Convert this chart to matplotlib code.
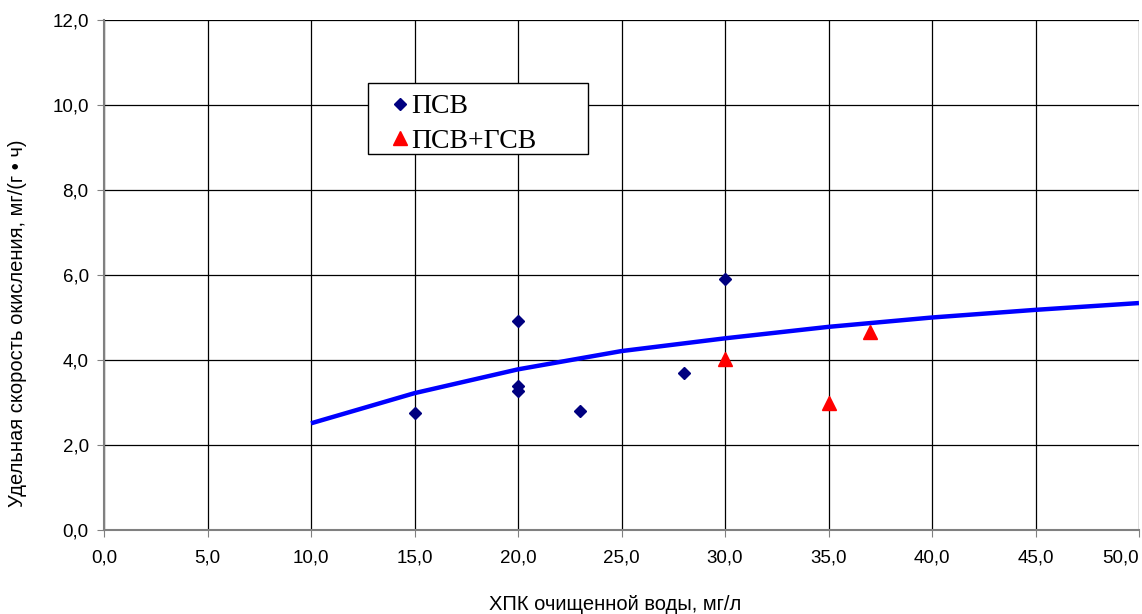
import matplotlib
matplotlib.use("Agg")
import matplotlib.pyplot as plt
from matplotlib.patches import Rectangle

# ПСВ
psv_x = [15, 20, 20, 20, 23, 28, 30]
psv_y = [2.75, 4.92, 3.40, 3.28, 2.80, 3.69, 5.90]

# ПСВ+ГСВ
gsv_x = [30, 35, 37]
gsv_y = [4.02, 3.00, 4.67]

# trend line
fit_x = [10, 15, 20, 25, 30, 35, 40, 45, 50]
fit_y = [2.51, 3.22, 3.78, 4.21, 4.51, 4.78, 5.00, 5.18, 5.34]

xticks = [0, 5, 10, 15, 20, 25, 30, 35, 40, 45, 50]
yticks = [0, 2, 4, 6, 8, 10, 12]

def comma(v):
    return f"{v:.1f}".replace(".", ",")

W, H = 1142, 614
fig = plt.figure(figsize=(W / 100, H / 100), dpi=100)
ax = fig.add_axes([104 / W, 1 - 530 / H, 1035 / W, 510 / H])

ax.plot(fit_x, fit_y, color="#0000ff", lw=3.2, zorder=3, solid_capstyle="butt")
ax.plot(psv_x, psv_y, "D", color="#000080", ms=6.2, ls="none", zorder=4, label="ПСВ")
ax.plot(gsv_x, gsv_y, "^", color="#ff0000", ms=10, ls="none", zorder=4, label="ПСВ+ГСВ")

ax.set_xlim(0, 50)
ax.set_ylim(0, 12)
ax.set_xticks(xticks, [comma(v) for v in xticks])
ax.set_yticks(yticks, [comma(v) for v in yticks])

ax.grid(True, color="black", lw=0.9)
ax.set_axisbelow(True)
for s in ["top", "right"]:
    ax.spines[s].set_visible(False)
for s in ["left", "bottom"]:
    ax.spines[s].set_color("#808080")
    ax.spines[s].set_linewidth(1.5)
ax.tick_params(direction="out", length=5, color="#808080", labelsize=13.5,
               labelcolor="black")
ax.tick_params(axis="x", pad=9)
ax.tick_params(axis="y", pad=6)
for t in ax.get_xticklabels() + ax.get_yticklabels():
    t.set_family("Liberation Sans")
ax.get_xticklabels()[-1].set_ha("right")

fig.text(18 / W, 1 - 323 / H, "Удельная скорость окисления, мг/(г • ч)", rotation=90,
         ha="center", va="center", fontsize=14.5, family="Liberation Sans")
fig.text(615 / W, 1 - 604 / H, "ХПК очищенной воды, мг/л", ha="center", va="center",
         fontsize=14.5, family="Liberation Sans")

# legend box (wider than the entries, as in the original)
box = Rectangle((368 / W, 1 - 154 / H), 220 / W, 71 / H,
                transform=fig.transFigure, facecolor="white",
                edgecolor="black", lw=1.0, zorder=5, clip_on=False)
ax.add_patch(box)
leg = ax.legend(loc="upper left", bbox_to_anchor=(390 / W, 1 - 94 / H),
                bbox_transform=fig.transFigure, frameon=False,
                prop={"family": "Liberation Serif", "size": 20},
                handlelength=0.7, handletextpad=0.05, borderpad=0.0,
                labelspacing=0.33, borderaxespad=0)
leg.set_zorder(6)

fig.savefig("out.png", dpi=100)
